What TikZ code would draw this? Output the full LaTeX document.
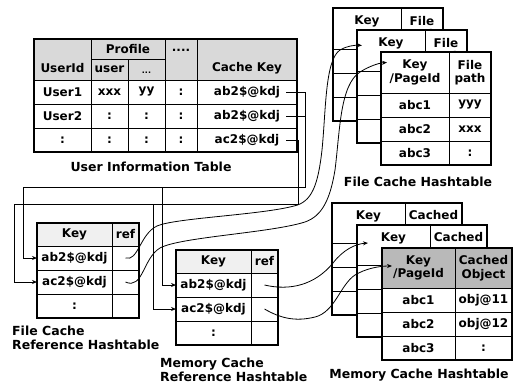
\documentclass[tikz,border=0pt]{standalone}
\usepackage{fontspec}
\setmainfont{DejaVu Sans}
\usetikzlibrary{positioning,arrows.meta,calc}

\begin{document}
\begin{tikzpicture}[
    x=1pt, y=-1pt,
    cell/.style={rectangle, draw=black, line width=0.7pt, fill=white, anchor=north west, inner sep=0pt, outer sep=0pt, align=center, font=\fontsize{12}{13.5}\selectfont\bfseries},
    hcell/.style={cell, fill=gray!30},
    txt/.style={font=\fontsize{12}{13.5}\selectfont\bfseries, inner sep=0pt},
    title/.style={font=\fontsize{12.5}{14}\selectfont\bfseries, inner sep=0pt, align=left},
    frame/.style={draw=black, line width=1.6pt},
    bus/.style={draw=black, line width=0.9pt},
    link/.style={draw=black, line width=0.8pt},
    tip/.style={-{Stealth[length=5pt, width=4pt]}}
]
\useasboundingbox (0,0) rectangle (513,385);

% User information table: header
\node[hcell, minimum width=57, minimum height=41] (uidcell) at (34,39) {};
\node[hcell, minimum width=74, minimum height=20] (uprofile) at (91,39) {Profile};
\node[hcell, minimum width=37, minimum height=21] (uuser) at (91,59) {user};
\node[hcell, minimum width=37, minimum height=21] (uetc) at (128,59) {};
\node[hcell, minimum width=32, minimum height=41] (umorecell) at (165,39) {};
\node[hcell, minimum width=100, minimum height=41] (ukeycell) at (197,39) {};
\node[txt] (uid) at (62.5,68) {UserId};
\node[txt, font=\fontsize{8}{9}\selectfont\bfseries] (uetctext) at (146.5,73) {...};
\node[txt] (umore) at (181,50) {....};
\node[txt] (ukey) at (247,68) {Cache Key};

% User information table: rows
\foreach \r/\ua/\ub/\uc/\ud/\ue in {0/User1/xxx/yy/:/ab2\$@kdj, 1/User2/:/:/:/ab2\$@kdj, 2/:/:/:/:/ac2\$@kdj} {
  \node[cell, minimum width=57, minimum height=24] (uname\r) at (34,{80+24*\r}) {\ua};
  \node[cell, minimum width=37, minimum height=24] (uusr\r) at (uname\r.north east) {\ub};
  \node[cell, minimum width=37, minimum height=24] (uopt\r) at (uusr\r.north east) {\uc};
  \node[cell, minimum width=32, minimum height=24] (uext\r) at (uopt\r.north east) {\ud};
  \node[cell, minimum width=100, minimum height=24] (ck\r) at (uext\r.north east) {\ue};
}
\draw[frame] (uidcell.north west) rectangle (ck2.south east);
\node[title] (utitle) at (151,167) {User Information Table};

% File cache hashtables, back to front (only the front one is filled in)
\foreach \n/\ox/\oy/\kname in {0/333/8/{Key\\\phantom{/PageId}}, 1/357/30/{Key\\\phantom{/PageId}}, 2/381/52/{Key\\/PageId}} {
  \node[cell, minimum width=68, minimum height=41] (fckey\n) at (\ox,\oy) {\kname};
  \node[cell, minimum width=42, minimum height=41] (fcpath\n) at (fckey\n.north east) {File\\path};
  \foreach \r/\pg/\fp in {0/abc1/yyy, 1/abc2/xxx, 2/abc3/:} {
    \node[cell, minimum width=68, minimum height=24] (fcpg\n\r) at (\ox,{\oy+41+24*\r}) {\ifnum\n=2 \pg\fi};
    \node[cell, minimum width=42, minimum height=24] (fcfp\n\r) at (fcpg\n\r.north east) {\ifnum\n=2 \fp\fi};
  }
  \draw[frame] (fckey\n.north west) rectangle (fcfp\n2.south east);
}
\node[title] (fctitle) at (418,182) {File Cache Hashtable};

% Memory cache hashtables, back to front
\foreach \n/\ox/\oy/\kname/\vname/\hdfill in {0/332/203/{Key\\\phantom{/PageId}}/{Cached\\\phantom{Object}}/white, 1/357/225/{Key\\\phantom{/PageId}}/{Cached\\\phantom{Object}}/white, 2/382/248/{Key\\/PageId}/{Cached\\Object}/gray!55} {
  \node[cell, fill=\hdfill, minimum width=73, minimum height=40] (mckey\n) at (\ox,\oy) {\kname};
  \node[cell, fill=\hdfill, minimum width=57, minimum height=40] (mcobj\n) at (mckey\n.north east) {\vname};
  \foreach \r/\pg/\ob in {0/abc1/obj@11, 1/abc2/obj@12, 2/abc3/:} {
    \node[cell, minimum width=73, minimum height=24] (mcpg\n\r) at (\ox,{\oy+40+24*\r}) {\ifnum\n=2 \pg\fi};
    \node[cell, minimum width=57, minimum height=24] (mcob\n\r) at (mcpg\n\r.north east) {\ifnum\n=2 \ob\fi};
  }
  \draw[frame] (mckey\n.north west) rectangle (mcob\n2.south east);
}
\node[title] (mctitle) at (419,375) {Memory Cache Hashtable};

% Reference hashtables
\foreach \t/\ox/\oy in {f/37/223, m/176/250} {
  \node[cell, fill=gray!12, minimum width=75, minimum height=23] (\t refhead) at (\ox,\oy) {Key};
  \node[cell, fill=gray!12, minimum width=27, minimum height=23] (\t refheadr) at (\t refhead.north east) {ref};
  \foreach \r/\k in {0/ab2\$@kdj, 1/ac2\$@kdj, 2/:} {
    \node[cell, minimum width=75, minimum height=24] (\t refkey\r) at (\ox,{\oy+23+24*\r}) {\k};
    \node[cell, minimum width=27, minimum height=24] (\t refval\r) at (\t refkey\r.north east) {};
  }
  \draw[frame] (\t refhead.north west) rectangle (\t refval2.south east);
}
\node[title, anchor=west] (frtitle) at (12,338) {File Cache\\Reference Hashtable};
\node[title, anchor=west] (mrtitle) at (160,370) {Memory Cache\\Reference Hashtable};

% Routing of cache keys into the reference tables
\coordinate (busA) at (305,187);
\coordinate (busB) at (298,204);
\coordinate (tapA) at (162,187);
\coordinate (tapB) at (153,204);
\coordinate (railA) at (23,0);
\coordinate (railB) at (14,0);

\draw[bus, tip] ([xshift=-11pt]ck0.east) -| (busA) -| (railA |- frefkey0.west) -- (frefkey0.west);
\draw[bus] ([xshift=-11pt]ck1.east) -- (ck1.east -| busA);
\draw[bus, tip] (tapA) |- (mrefkey0.west);
\draw[bus, tip] ([xshift=-11pt]ck2.east) -| (busB) -| (railB |- frefkey1.west) -- (frefkey1.west);
\draw[bus, tip] (tapB) |- (mrefkey1.west);

% References into the cache hashtables
\coordinate (fctip1) at ($(fckey1.west)+(5,-5)$);
\coordinate (fctip2) at ($(fckey2.west)+(6,-10)$);
\coordinate (mctip1) at ($(mckey1.west)+(11,-2)$);
\coordinate (mctip2) at ($(mckey2.west)+(10,-2)$);

\draw[link, tip] (frefval0.center) .. controls (138,262) and (140,234) .. (157,226)
  .. controls (175,218) and (260,215) .. (294,206)
  .. controls (312,202) and (318,185) .. (322,150)
  .. controls (326,110) and (325,60) .. (340,50)
  .. controls (347,46) and (354,45) .. (fctip1);
\draw[link, tip] (frefval1.center) .. controls (143,290) and (143,258) .. (160,248)
  .. controls (180,237) and (270,233) .. (305,222)
  .. controls (322,216) and (330,200) .. (335,170)
  .. controls (340,130) and (340,85) .. (360,72)
  .. controls (368,67) and (378,63) .. (fctip2);
\draw[link, tip] (mrefval0.center) .. controls (290,291) and (315,285) .. (333,263)
  .. controls (343,250) and (355,244) .. (mctip1);
\draw[link, tip] (mrefval1.center) .. controls (280,318) and (295,322) .. (315,317)
  .. controls (335,312) and (340,285) .. (355,275)
  .. controls (365,269) and (378,266) .. (mctip2);
\end{tikzpicture}
\end{document}
